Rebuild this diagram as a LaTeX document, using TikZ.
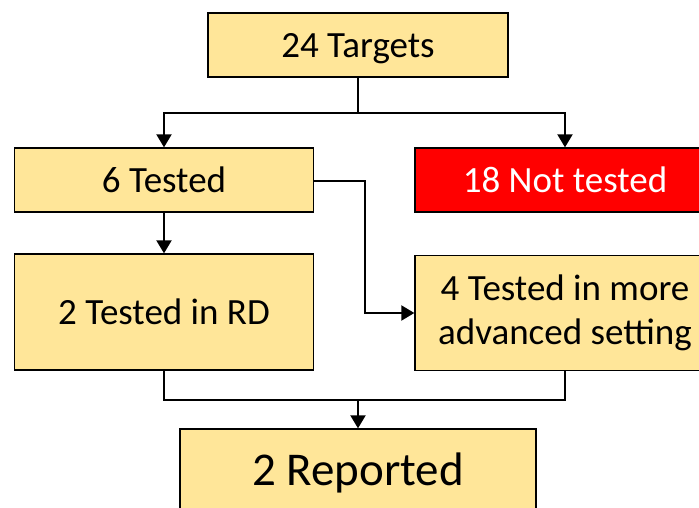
\documentclass[tikz,border=0pt]{standalone}
\usepackage{fontspec}
\setmainfont{Carlito}
\usetikzlibrary{arrows.meta}
\definecolor{boxy}{HTML}{FFE699}
\definecolor{boxr}{HTML}{FF0000}
\tikzset{
  flowbox/.style={draw=black, line width=1.3pt, fill=boxy, inner sep=0pt, align=center, font=\fontsize{37}{44}\selectfont},
  oneline/.style={text height=24pt, text depth=0pt},
  redbox/.style={flowbox, fill=boxr, text=white},
  conn/.style={line width=2pt, draw=black},
  arr/.style={conn, -{Triangle[length=13pt,width=15pt]}}
}
\begin{document}
\begin{tikzpicture}[x=1pt,y=-1pt]
\useasboundingbox (0,0) rectangle (699,507);
\clip (0,0) rectangle (699,507);
\node[flowbox, oneline, minimum width=300pt, minimum height=64pt] (targets) at (358,45) {24 Targets};
\node[flowbox, oneline, minimum width=299pt, minimum height=64pt] (tested6) at (164,180) {6 Tested};
\node[redbox, oneline, minimum width=300pt, minimum height=64pt] (nottested) at (565,180) {18 Not tested};
\node[flowbox, oneline, minimum width=299pt, minimum height=116pt] (rd) at (164,312) {2 Tested in RD};
\node[flowbox, minimum width=300pt, minimum height=115pt] (adv) at (565,313) {4 Tested in more\\advanced setting};
\node[flowbox, text height=30pt, text depth=0pt, minimum width=356pt, minimum height=82pt, font=\fontsize{47}{56}\selectfont] (rep) at (358,470) {2 Reported};
\coordinate (j1) at (358,113);
\coordinate (j2) at (365,181);
\coordinate (j3) at (358,400);
\draw[conn] (targets.south) -- (j1);
\draw[arr] (j1) -| (tested6.north);
\draw[arr] (j1) -| (nottested.north);
\draw[arr] (tested6.south) -- (rd.north);
\draw[arr] (tested6.east |- j2) -- (j2) |- (adv.west);
\draw[conn] (rd.south) |- (j3) -| (adv.south);
\draw[arr] (j3) -- (rep.north);
\end{tikzpicture}
\end{document}
